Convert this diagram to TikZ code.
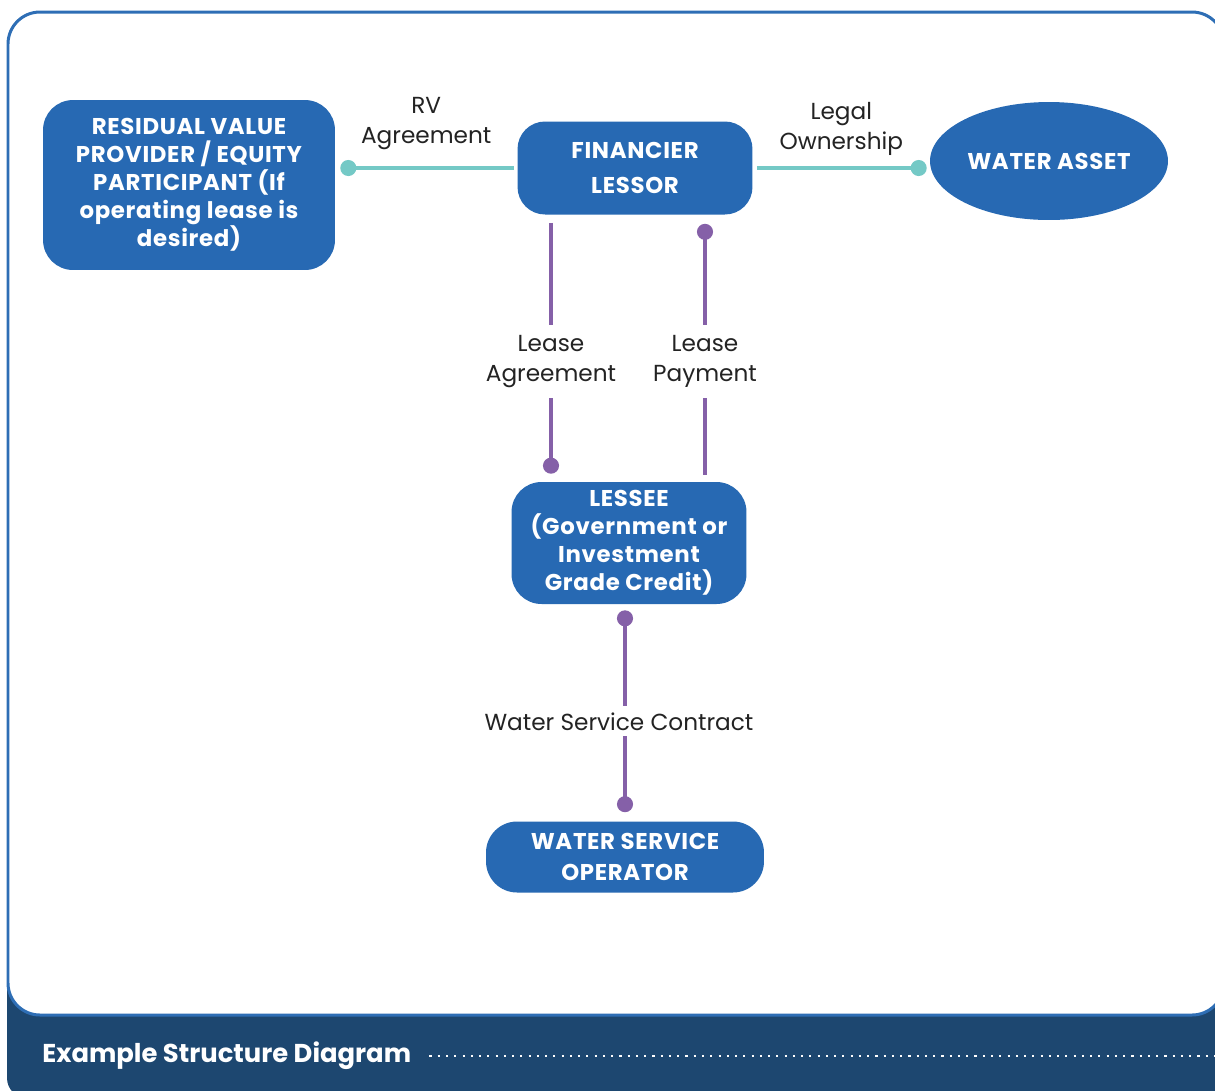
\documentclass[tikz,border=0pt]{standalone}
\usepackage{fontspec}
\setmainfont{Poppins}
\newfontfamily\boxfont{Poppins}[LetterSpace=3]
\usetikzlibrary{shapes.geometric,arrows.meta}
\definecolor{boxblue}{RGB}{39,105,179}
\definecolor{frameblue}{RGB}{46,110,181}
\definecolor{bandblue}{RGB}{29,71,112}
\definecolor{tealline}{RGB}{116,201,198}
\definecolor{purpleline}{RGB}{133,96,168}
\definecolor{labelgray}{RGB}{35,35,35}

\begin{document}
\begin{tikzpicture}[x=0.02cm,y=-0.02cm,
    box/.style={fill=boxblue, text=white, align=center, inner sep=0pt,
      font=\boxfont\bfseries\fontsize{13}{16}\selectfont},
    tlink/.style={draw=tealline, line width=2.4pt},
    plink/.style={draw=purpleline, line width=2.4pt},
    ball/.tip={Circle[length=0.32cm, width=0.32cm]},
    lbl/.style={text=labelgray, align=center, font=\fontsize{13.2}{17}\selectfont}]
      \useasboundingbox (0,0) rectangle (1215,1090);
      \clip (0,0) rectangle (1215,1090);
      \fill[bandblue, rounded corners=0.4cm] (7,960) rectangle (1240,1098);
      \draw[frameblue, line width=1.7pt, fill=white, rounded corners=0.64cm] (8,12) rectangle (1224,1015);

      \node[box, rounded corners=0.6cm, minimum width=5.84cm, minimum height=3.4cm] (rv) at (189,185)
        {RESIDUAL VALUE\\PROVIDER / EQUITY\\PARTICIPANT (If\\operating lease is\\desired)};
      \node[box, rounded corners=0.55cm, minimum width=4.7cm, minimum height=1.86cm,
        font=\boxfont\bfseries\fontsize{13}{20}\selectfont] (fin) at (635,168) {FINANCIER\\LESSOR};
      \node[box, ellipse, minimum width=4.76cm, minimum height=2.36cm] (asset) at (1049,161) {WATER ASSET};
      \node[box, rounded corners=0.6cm, minimum width=4.7cm, minimum height=2.44cm] (lessee) at (629,543)
        {LESSEE\\(Government or\\Investment\\Grade Credit)};
      \node[box, rounded corners=0.62cm, minimum width=5.56cm, minimum height=1.42cm,
        font=\boxfont\bfseries\fontsize{13}{18}\selectfont] (op) at (625,857) {WATER SERVICE\\OPERATOR};

      \coordinate (la) at (551,0);
      \coordinate (lp) at (705,0);
      \coordinate (wc) at (625,0);

      \draw[tlink, -{ball}, shorten <=0.06cm, shorten >=0.1cm] (fin.west) -- (rv.east |- fin.west)
        node[lbl, midway, above=0.2cm] {RV\\Agreement};
      \draw[tlink, -{ball}, shorten <=0.08cm, shorten >=0.06cm] (fin.east) -- (asset.west |- fin.east)
        node[lbl, midway, above=0.1cm] {Legal\\Ownership};
      \draw[plink, -{ball}, shorten <=0.16cm, shorten >=0.16cm] (fin.south -| la) -- (lessee.north -| la)
        node[lbl, pos=0.55, fill=white, inner xsep=2pt, minimum height=1.45cm] {Lease\\Agreement};
      \draw[plink, {ball}-, shorten <=0.18cm, shorten >=0.14cm] (fin.south -| lp) -- (lessee.north -| lp)
        node[lbl, pos=0.55, fill=white, inner xsep=2pt, minimum height=1.45cm] {Lease\\Payment};
      \draw[plink, {ball}-{ball}, shorten <=0.12cm, shorten >=0.18cm] (lessee.south -| wc) -- (op.north -| wc)
        node[lbl, pos=0.54, xshift=-0.12cm, fill=white, inner xsep=2pt, minimum height=0.6cm] {Water Service Contract};

      \node[anchor=west, inner sep=0pt, text=white, font=\bfseries\fontsize{14.7}{17}\selectfont] (title) at (42,1056)
        {Example Structure Diagram};
      \draw[white, line width=1.2pt, dash pattern=on 1.2pt off 3.5pt] ([xshift=0.36cm]title.east) -- (title.east -| 1215,0);
\end{tikzpicture}
\end{document}
